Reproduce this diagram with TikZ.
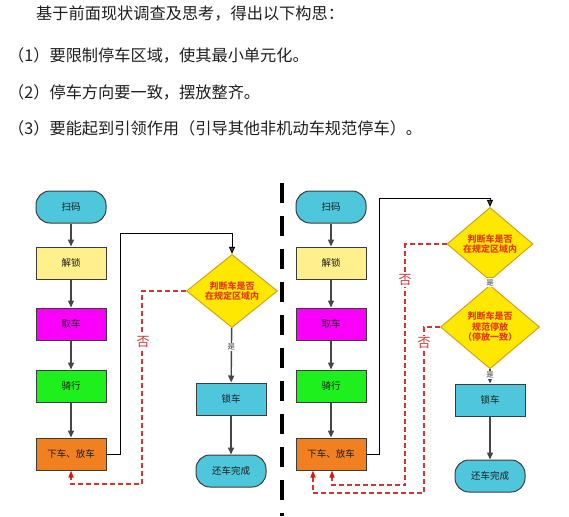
\documentclass[tikz,border=0pt]{standalone}
\usepackage{fontspec}
\setmainfont{Noto Sans CJK SC}
\usetikzlibrary{shapes.geometric,arrows.meta}
\definecolor{termcyan}{RGB}{78,198,220}
\definecolor{unlockyellow}{RGB}{255,240,140}
\definecolor{takemagenta}{RGB}{250,0,250}
\definecolor{ridegreen}{RGB}{30,240,30}
\definecolor{parkorange}{RGB}{240,128,32}
\definecolor{judgefill}{RGB}{255,232,0}
\definecolor{judgeline}{RGB}{215,160,30}
\definecolor{judgetext}{RGB}{228,60,20}
\definecolor{boxline}{RGB}{60,60,60}
\definecolor{flowgray}{RGB}{70,70,70}
\definecolor{backred}{RGB}{205,55,55}
\definecolor{tipred}{RGB}{220,20,20}
\definecolor{headtext}{RGB}{30,30,30}
\tikzset{
  box/.style={draw=boxline, line width=1pt, minimum width=70pt, minimum height=32pt,
    inner sep=0pt, text=headtext, font=\fontsize{9.5}{11}\selectfont},
  term/.style={box, rounded corners=14pt, fill=termcyan},
  judge/.style={diamond, draw=judgeline, fill=judgefill, line width=1pt, inner sep=0pt,
    text=judgetext, align=center, font=\fontsize{9}{10.5}\selectfont\bfseries},
  flow/.style={draw=flowgray, line width=1.4pt, -{Triangle[length=7pt,width=6pt]}},
  turn/.style={draw=black, line width=0.9pt, -{Triangle[length=7pt,width=6pt,fill=flowgray]}},
  back/.style={draw=backred, line width=1.3pt, dash pattern=on 5pt off 3pt,
    -{Triangle[length=7pt,width=5pt,fill=tipred,color=tipred]}},
  nolabel/.style={fill=white, inner sep=1pt, text=backred, font=\fontsize{13}{13}\selectfont},
  yeslabel/.style={fill=white, inner sep=1pt, text=darkgray, font=\fontsize{7.5}{8}\selectfont},
  head/.style={anchor=west, inner sep=0pt, text=headtext, font=\fontsize{16.2}{18}\selectfont},
  divider/.style={draw=black, line width=4pt, dash pattern=on 20pt off 13pt}
}
\begin{document}
\begin{tikzpicture}[x=1pt,y=-1pt]
  \useasboundingbox (0,0) rectangle (569,516);
  % heading
  \path
    (36,14) node[head] (h0){基于前面现状调查及思考，得出以下构思：}
    (8,55) node[head] (h1){（1）要限制停车区域，使其最小单元化。}
    (8,92) node[head] (h2){（2）停车方向要一致，摆放整齐。}
    (8,128) node[head] (h3){（3）要能起到引领作用（引导其他非机动车规范停车）。};
  % left flow
  \path
    (71,207) node[term] (Lscan){扫码}
    (71,263) node[box,fill=unlockyellow] (Lunlock){解锁}
    (71,324) node[box,fill=takemagenta] (Ltake){取车}
    (71,386) node[box,fill=ridegreen] (Lride){骑行}
    (71,454) node[box,fill=parkorange] (Lpark){下车、放车}
    (232,291) node[judge,minimum width=91pt,minimum height=66pt] (Ljudge){判断车是否\\在规定区域内}
    (231,399) node[box,fill=termcyan] (Llock){锁车}
    (231,471) node[term] (Ldone){还车完成};
  \coordinate (Lup) at (120,233);
  \coordinate (Lno) at (142,484);
  % right flow
  \path
    (331,207) node[term] (Rscan){扫码}
    (331,263) node[box,fill=unlockyellow] (Runlock){解锁}
    (331,324) node[box,fill=takemagenta] (Rtake){取车}
    (331,386) node[box,fill=ridegreen] (Rride){骑行}
    (331,454) node[box,fill=parkorange] (Rpark){下车、放车}
    (490,244) node[judge,minimum width=86pt,minimum height=50pt] (Rjudge1){判断车是否\\在规定区域内}
    (490,327) node[judge,minimum width=99pt,minimum height=58pt] (Rjudge2){判断车是否\\规范停放\\（停放一致）}
    (490,400) node[box,fill=termcyan] (Rlock){锁车}
    (490,476) node[term] (Rdone){还车完成};
  \coordinate (Rup) at (379,198);
  \coordinate (Rno1) at (405,485);
  \coordinate (Rno2) at (424,493);
  \draw[divider] (282,183) -- (282,516);
  \begin{scope}[flow]
    \draw (Lscan) -- (Lunlock);
    \draw (Lunlock) -- (Ltake);
    \draw (Ltake) -- (Lride);
    \draw (Lride) -- (Lpark);
    \draw (Ljudge) -- node[yeslabel,pos=0.35]{是} (Llock);
    \draw (Llock) -- (Ldone);
    \draw (Rscan) -- (Runlock);
    \draw (Runlock) -- (Rtake);
    \draw (Rtake) -- (Rride);
    \draw (Rride) -- (Rpark);
    \draw (Rjudge1) -- node[yeslabel,pos=0.4]{是} (Rjudge2);
    \draw (Rjudge2) -- node[yeslabel,pos=0.4]{是} (Rlock);
    \draw (Rlock) -- (Rdone);
  \end{scope}
  \draw[turn] (Lpark.east) -| (Lup) -| (Ljudge.north);
  \draw[turn] (Rpark.east) -| (Rup) -| (Rjudge1.north);
  \draw[back] (Ljudge.west) -| (Lno) -| (Lpark.south);
  \draw[back] (Rjudge1.west) -| (Rno1) -| ([xshift=1]Rpark.south);
  \draw[back] (Rjudge2.west) -| (Rno2) -| ([xshift=-18]Rpark.south);
  \node[nolabel] (Lnotext) at (143,342) {否};
  \node[nolabel] (Rnotext1) at (405,280) {否};
  \node[nolabel] (Rnotext2) at (424,343) {否};
\end{tikzpicture}
\end{document}
